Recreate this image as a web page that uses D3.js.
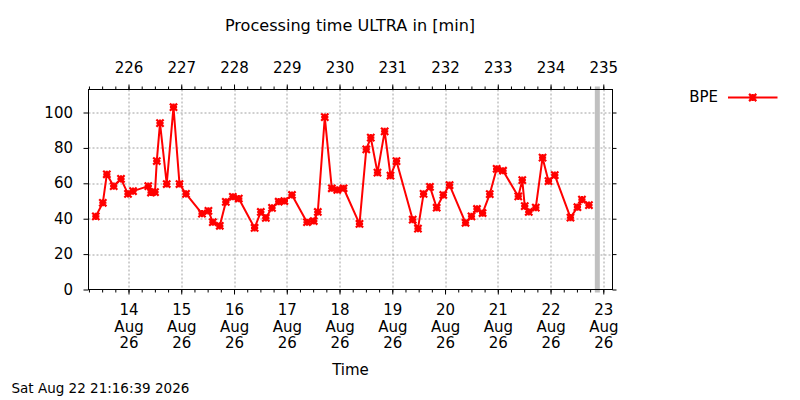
<!DOCTYPE html>
<html>
<head>
<meta charset="utf-8">
<script src="https://cdn.jsdelivr.net/npm/d3@7"></script>
<style>
	body{margin:0;background:#fff;}
	svg text{font-family:"DejaVu Sans", sans-serif; fill:#000;}
</style>
</head>
<body>
<svg id="chart" width="800" height="400"></svg>
<script>
// values (UTC times, minutes)
const times = [
	"2026-08-13 09:08","2026-08-13 12:19","2026-08-13 14:08","2026-08-13 17:16","2026-08-13 20:35","2026-08-13 23:46",
	"2026-08-14 02:03","2026-08-14 09:00","2026-08-14 10:14","2026-08-14 12:03","2026-08-14 12:52","2026-08-14 14:20",
	"2026-08-14 17:23","2026-08-14 20:28","2026-08-14 23:12","2026-08-15 02:10","2026-08-15 09:26","2026-08-15 12:21",
	"2026-08-15 14:21","2026-08-15 17:32","2026-08-15 20:16","2026-08-15 23:27","2026-08-16 02:10","2026-08-16 09:22",
	"2026-08-16 12:11","2026-08-16 14:28","2026-08-16 17:17","2026-08-16 20:19","2026-08-16 22:55","2026-08-17 02:22",
	"2026-08-17 09:12","2026-08-17 12:17","2026-08-17 14:07","2026-08-17 17:18","2026-08-17 20:29","2026-08-17 22:59",
	"2026-08-18 01:51","2026-08-18 09:05","2026-08-18 12:10","2026-08-18 14:13","2026-08-18 17:16","2026-08-18 20:32",
	"2026-08-18 23:11","2026-08-19 01:55","2026-08-19 09:17","2026-08-19 11:41","2026-08-19 14:14","2026-08-19 17:09",
	"2026-08-19 20:12","2026-08-19 23:12","2026-08-20 02:04","2026-08-20 09:20","2026-08-20 12:02","2026-08-20 14:32",
	"2026-08-20 17:05","2026-08-20 20:21","2026-08-20 23:29","2026-08-21 02:24","2026-08-21 09:19","2026-08-21 11:08",
	"2026-08-21 12:16","2026-08-21 14:05","2026-08-21 17:17","2026-08-21 20:22","2026-08-21 23:04","2026-08-22 01:55",
	"2026-08-22 09:04","2026-08-22 12:14","2026-08-22 14:17","2026-08-22 17:28"
];
const bpe = [
	41.3, 49, 65.1, 58.4, 62.5, 54,
	55.6, 58.4, 54.8, 55, 72.6, 94,
	59.6, 103, 59.6, 54, 42.9, 44.4,
	38, 36, 49.5, 52.4, 51.4, 34.8,
	43.8, 40.5, 46.1, 49.6, 50, 53.4,
	38, 38.7, 43.8, 97.4, 57.2, 56.3,
	57.2, 37.1, 79.2, 85.8, 66, 89.3,
	64.3, 72.5, 39.5, 34.4, 54, 58,
	46.2, 53.4, 59, 37.7, 41.3, 45.5,
	43.2, 53.9, 68.2, 67.1, 52.6, 61.8,
	47.1, 43.8, 46.3, 74.5, 61.2, 64.6,
	40.6, 46.5, 50.8, 47.7
];
const yTicks = [0, 20, 40, 60, 80, 100];
const xRange = ["2026-08-13 05:48", "2026-08-23 04:11"];
const nowStamp = "2026-08-22 21:16:39";
const seriesName = "BPE";
const titleText = "Processing time ULTRA in [min]";
const xLabel = "Time";
const footerText = "Sat Aug 22 21:16:39 2026";

const margin = {top: 89.5, right: 187.5, bottom: 110.5, left: 88.5};
const W = 800, H = 400;
const width = W - margin.left - margin.right;
const height = H - margin.top - margin.bottom;
const parseT = d3.utcParse("%Y-%m-%d %H:%M");
const parseNow = d3.utcParse("%Y-%m-%d %H:%M:%S");
const fmtDay = d3.utcFormat("%d"), fmtMon = d3.utcFormat("%b"), fmtYr = d3.utcFormat("%y");
const fmtDoy = d3.utcFormat("%j");

const data = times.map(function(t, i){ return {t: parseT(t), v: bpe[i]}; });

const svg = d3.select('#chart');
svg.append('rect').attr('width', W).attr('height', H).attr('fill', '#fff');

const x = d3.scaleUtc().domain(xRange.map(parseT)).range([0, width]);
const y = d3.scaleLinear().domain([0, 113]).range([height, 0]);

const days = d3.utcDay.range(x.domain()[0], x.domain()[1]).filter(function(d){ return x(d) > 0; });
const quarters = d3.utcHour.every(6).range(x.domain()[0], x.domain()[1]);

const g = svg.append('g').attr('transform', 'translate(' + margin.left + ',' + margin.top + ')');

// grid
g.append('g').selectAll('line').data(days).enter().append('line')
	.attr('x1', function(d){ return Math.round(x(d)) + 0.5; })
	.attr('x2', function(d){ return Math.round(x(d)) + 0.5; })
	.attr('y1', 0).attr('y2', height)
	.attr('stroke', '#a0a0a0').attr('stroke-dasharray', '2,2');
g.append('g').selectAll('line').data(yTicks.slice(1)).enter().append('line')
	.attr('x1', 0).attr('x2', width)
	.attr('y1', function(d){ return Math.round(y(d)) + 0.5; })
	.attr('y2', function(d){ return Math.round(y(d)) + 0.5; })
	.attr('stroke', '#a0a0a0').attr('stroke-dasharray', '2,2');

// now marker
const nowX = x(parseNow(nowStamp));
g.append('rect').attr('x', nowX - 2.5).attr('y', -3).attr('width', 5).attr('height', height + 6)
	.attr('fill', '#c0c0c0');

// axes (ticks outward)
const xBottom = d3.axisBottom(x).tickValues(days).tickSize(5).tickFormat('');
const xBottomMinor = d3.axisBottom(x).tickValues(quarters).tickSize(3).tickFormat('');
const xTop = d3.axisTop(x).tickValues(days).tickSize(5).tickFormat(fmtDoy);
const xTopMinor = d3.axisTop(x).tickValues(quarters).tickSize(3).tickFormat('');
const yLeft = d3.axisLeft(y).tickValues(yTicks).tickSize(5).tickFormat(d3.format('d'));
const yRight = d3.axisRight(y).tickValues(yTicks).tickSize(4).tickFormat('');

function styleAxis(sel){
	sel.select('.domain').remove();
	sel.selectAll('line').attr('stroke', '#000');
	sel.selectAll('text').attr('font-size', 15).attr('font-family', '"DejaVu Sans", sans-serif').attr('fill', '#000');
}

g.append('g').attr('transform', 'translate(0,' + height + ')').call(xBottomMinor).call(styleAxis);
const bAx = g.append('g').attr('transform', 'translate(0,' + height + ')').call(xBottom).call(styleAxis);
g.append('g').call(xTopMinor).call(styleAxis);
const tAx = g.append('g').call(xTop).call(styleAxis);
tAx.selectAll('text').attr('y', -16.5).attr('dy', 0);
const lAx = g.append('g').call(yLeft).call(styleAxis);
lAx.selectAll('text').attr('x', -15.5).attr('dy', '0.3em');
g.append('g').attr('transform', 'translate(' + width + ',0)').call(yRight).call(styleAxis);

// multi-line date labels below
bAx.selectAll('.tick').each(function(d){
	const t = d3.select(this).append('text').attr('text-anchor', 'middle').attr('font-size', 15).attr('fill', '#000');
	[fmtDay(d), fmtMon(d), fmtYr(d)].forEach(function(s, i){
		t.append('tspan').attr('x', 0).attr('y', 25.5 + i * 16.7).text(s);
	});
});

// border
g.append('rect').attr('x', 0).attr('y', 0).attr('width', width).attr('height', height)
	.attr('fill', 'none').attr('stroke', '#000');

// series
const line = d3.line().x(function(d){ return x(d.t); }).y(function(d){ return y(d.v); });
g.append('path').datum(data).attr('d', line)
	.attr('fill', 'none').attr('stroke', '#ff0000').attr('stroke-width', 2).attr('stroke-linejoin', 'round');

function asterisk(sel, s){
	sel.append('path')
		.attr('d', 'M' + (-s) + ',0H' + s + 'M0,' + (-s) + 'V' + s +
			'M' + (-s) + ',' + (-s) + 'L' + s + ',' + s + 'M' + (-s) + ',' + s + 'L' + s + ',' + (-s))
		.attr('stroke', '#ff0000').attr('stroke-width', 2.2).attr('fill', 'none');
}
g.append('g').selectAll('g').data(data).enter().append('g')
	.attr('transform', function(d){ return 'translate(' + x(d.t) + ',' + y(d.v) + ')'; })
	.call(asterisk, 3.6);

// legend
const lg = svg.append('g');
lg.append('text').attr('x', 718).attr('y', 101.7).attr('text-anchor', 'end').attr('font-size', 15).text(seriesName);
lg.append('line').attr('x1', 728).attr('x2', 777.5).attr('y1', 97.5).attr('y2', 97.5)
	.attr('stroke', '#ff0000').attr('stroke-width', 2);
lg.append('g').attr('transform', 'translate(752.7,97.5)').call(asterisk, 3.6);

// texts
svg.append('text').attr('x', 350).attr('y', 30.5).attr('text-anchor', 'middle').attr('font-size', 16.1).text(titleText);
svg.append('text').attr('x', margin.left + width / 2).attr('y', 375).attr('text-anchor', 'middle').attr('font-size', 15).text(xLabel);
svg.append('text').attr('x', 11.5).attr('y', 393).attr('font-size', 13.5).text(footerText);
</script>
</body>
</html>
